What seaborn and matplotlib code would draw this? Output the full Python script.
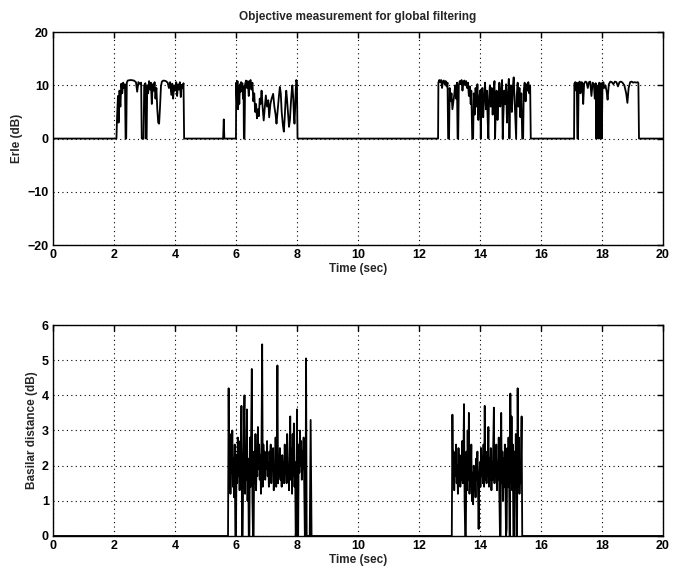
import matplotlib
matplotlib.use("Agg")
import matplotlib.pyplot as plt
import seaborn as sns
import pandas as pd

# ---------------- data ----------------
# Erle (dB): active segments, zero elsewhere
SEG_A_T = [2.08, 2.10, 2.13, 2.15, 2.18, 2.21, 2.24, 2.27, 2.30, 2.33, 2.36, 2.38, 2.40, 2.42, 2.45,
           2.55, 2.65, 2.72, 2.76, 2.80, 2.86, 2.89, 2.91, 2.97, 2.99, 3.03, 3.05, 3.07, 3.09, 3.12,
           3.15, 3.18, 3.21, 3.24, 3.27, 3.30, 3.33, 3.36, 3.39, 3.42, 3.45, 3.48, 3.51, 3.54, 3.57,
           3.62, 3.70, 3.76, 3.80, 3.84, 3.88, 3.91, 3.94, 3.97, 4.00, 4.04, 4.07, 4.10, 4.13, 4.16,
           4.19, 4.22, 4.25, 4.28, 4.30]
SEG_A_V = [0, 4, 8, 3, 9, 6, 10.3, 8.5, 10.5, 9.5, 10.2, 0, 0, 10.5, 10.9,
           11.0, 10.9, 10.6, 8.8, 10.6, 10.2, 10.5, 0, 0, 10.0, 10.4, 0, 0, 10.0, 8.5,
           10.8, 9.2, 10.5, 6.5, 10.2, 9.0, 10.6, 7.5, 9.5, 5.5, 3.0, 2.8, 6.0, 9.8, 10.7,
           10.9, 10.8, 10.5, 9.5, 10.6, 8.2, 10.3, 7.5, 10.0, 9.0, 10.6, 8.0, 10.2, 9.2, 10.6,
           7.8, 10.1, 9.5, 10.4, 0]

SPIKE_T = [5.58, 5.60, 5.62]
SPIKE_V = [0, 3.6, 0]

SEG_B_T = [6.00, 6.01, 6.03, 6.05, 6.07, 6.09, 6.11, 6.13, 6.15, 6.17, 6.19, 6.21, 6.23, 6.25, 6.26,
           6.28, 6.30, 6.33, 6.36, 6.39, 6.42, 6.45, 6.48, 6.51, 6.54, 6.57, 6.60, 6.63, 6.66, 6.69,
           6.72, 6.75, 6.78, 6.81, 6.84, 6.88, 6.91, 6.95, 6.98, 7.02, 7.06, 7.09, 7.13, 7.17, 7.22,
           7.26, 7.30, 7.33, 7.37, 7.41, 7.44, 7.47, 7.50, 7.54, 7.57, 7.60, 7.63, 7.65, 7.68, 7.71,
           7.74, 7.77, 7.80, 7.83, 7.85, 7.88, 7.90, 7.92, 7.94, 7.96, 7.98, 8.00, 8.02]
SEG_B_V = [0, 10.5, 7, 10.8, 5.5, 9.8, 6.5, 10.2, 8.8, 10.6, 9.0, 10.4, 7.5, 9.8, 0,
           0, 10.2, 10.9, 9.5, 10.8, 8.0, 10.6, 11.0, 9.2, 10.5, 7.0, 8.5, 5.0, 6.5, 3.8,
           5.5, 4.2, 7.5, 6.5, 9.0, 5.5, 3.4, 6.0, 8.1, 6.0, 7.2, 4.0, 6.5, 7.5, 8.4,
           6.0, 4.5, 2.8, 5.5, 8.0, 9.7, 8.5, 5.0, 2.5, 1.3, 4.0, 7.5, 9.0, 7.0, 4.5,
           2.2, 3.5, 6.5, 9.0, 10.0, 7.5, 4.5, 2.8, 5.5, 9.0, 11.0, 10.5, 0]

SEG_C_T = [12.63, 12.64, 12.67, 12.70, 12.73, 12.76, 12.79, 12.82, 12.85, 12.88, 12.91, 12.94, 12.96,
           12.99, 13.01, 13.04, 13.07, 13.10, 13.13, 13.16, 13.19, 13.22, 13.25, 13.27, 13.29, 13.31,
           13.34, 13.37, 13.40, 13.43, 13.46, 13.49, 13.52, 13.55, 13.58, 13.61, 13.64, 13.67, 13.70,
           13.72, 13.75, 13.78, 13.80, 13.83, 13.86, 13.89, 13.92, 13.95, 13.98, 14.01, 14.03, 14.05,
           14.08, 14.11, 14.14, 14.17, 14.20, 14.23, 14.26, 14.28, 14.30, 14.33, 14.36, 14.39, 14.42,
           14.45, 14.48, 14.50, 14.52, 14.55, 14.58, 14.61, 14.64, 14.67, 14.70, 14.73, 14.75, 14.77,
           14.80, 14.83, 14.86, 14.89, 14.92, 14.95, 14.97, 14.99, 15.02, 15.05, 15.08, 15.11, 15.14,
           15.17, 15.19, 15.21, 15.24, 15.27, 15.30, 15.33, 15.36, 15.39, 15.42, 15.44, 15.47, 15.50,
           15.53, 15.56, 15.59, 15.62, 15.65, 15.67]
SEG_C_V = [0, 10.5, 11.0, 10.6, 11.0, 9.5, 10.8, 10.9, 10.2, 10.8, 9.8, 10.5, 0,
           0, 9.5, 7.0, 8.5, 5.5, 6.8, 8.2, 10.0, 7.5, 10.5, 0, 0, 10.0,
           10.8, 10.2, 11.0, 9.0, 10.6, 10.9, 10.0, 10.8, 9.5, 10.5, 8.0, 9.8, 6.5,
           9.0, 0, 0, 8.5, 4.5, 9.5, 6.0, 10.2, 3.5, 7.5, 9.0, 0, 6.0,
           9.5, 4.0, 8.0, 10.5, 5.5, 9.0, 3.0, 0, 7.5, 10.0, 6.0, 9.5, 4.5,
           8.5, 10.8, 0, 5.0, 9.0, 3.5, 7.5, 10.5, 6.0, 9.0, 11.0, 0, 4.0,
           9.0, 6.5, 10.2, 3.0, 8.0, 11.2, 0, 7.0, 10.0, 5.0, 9.5, 11.5, 7.0,
           2.5, 0, 8.0, 10.5, 6.0, 9.5, 4.0, 8.5, 0, 0, 9.0, 10.5, 7.0,
           10.2, 9.0, 10.6, 8.5, 10.0, 0]

SEG_D_T = [17.09, 17.10, 17.13, 17.16, 17.18, 17.20, 17.22, 17.24, 17.27, 17.30, 17.33, 17.36, 17.39,
           17.42, 17.46, 17.50, 17.54, 17.58, 17.62, 17.66, 17.70, 17.74, 17.77, 17.80, 17.82, 17.84,
           17.86, 17.88, 17.90, 17.92, 17.94, 17.96, 17.98, 18.00, 18.02, 18.05, 18.08, 18.12, 18.16,
           18.19, 18.23, 18.28, 18.33, 18.38, 18.43, 18.48, 18.53, 18.58, 18.63, 18.68, 18.74, 18.80,
           18.84, 18.88, 18.93, 18.98, 19.03, 19.08, 19.13, 19.18, 19.20, 19.22]
SEG_D_V = [0, 10.3, 10.6, 9.0, 10.5, 0, 0, 10.2, 10.7, 8.5, 10.6, 10.5, 6.5,
           10.3, 10.7, 10.6, 9.5, 10.6, 10.7, 8.0, 10.5, 10.2, 7.5, 10.4, 0, 10.0,
           4.0, 0, 9.5, 10.5, 0, 8.0, 10.4, 0, 9.0, 10.6, 9.5, 10.0, 8.8,
           7.3, 10.2, 10.7, 10.6, 10.2, 10.7, 10.6, 9.8, 10.6, 10.7, 10.5, 10.0, 8.5,
           6.7, 9.5, 10.6, 10.7, 10.5, 10.6, 10.5, 10.6, 10.4, 0]

# Basilar distance (dB): active segments, zero elsewhere
SEG_E_T = [5.74, 5.76, 5.78, 5.80, 5.82, 5.84, 5.86, 5.88, 5.90, 5.92, 5.94, 5.96, 5.98, 6.00, 6.02,
           6.04, 6.06, 6.08, 6.10, 6.12, 6.14, 6.16, 6.18, 6.20, 6.22, 6.24, 6.26, 6.28, 6.30, 6.32,
           6.34, 6.36, 6.38, 6.40, 6.42, 6.44, 6.46, 6.48, 6.50, 6.52, 6.54, 6.56, 6.58, 6.60, 6.62,
           6.64, 6.66, 6.68, 6.70, 6.72, 6.74, 6.76, 6.78, 6.80, 6.82, 6.84, 6.86, 6.88, 6.90, 6.92,
           6.94, 6.96, 6.98, 7.00, 7.02, 7.04, 7.06, 7.08, 7.10, 7.12, 7.14, 7.16, 7.18, 7.20, 7.22,
           7.24, 7.26, 7.28, 7.30, 7.32, 7.34, 7.36, 7.38, 7.40, 7.42, 7.44, 7.46, 7.48, 7.50, 7.52,
           7.54, 7.56, 7.58, 7.60, 7.62, 7.64, 7.66, 7.68, 7.70, 7.72, 7.74, 7.76, 7.78, 7.80, 7.82,
           7.84, 7.86, 7.88, 7.90, 7.92, 7.94, 7.96, 7.98, 8.00, 8.02, 8.04, 8.06, 8.08, 8.10, 8.12,
           8.14, 8.16, 8.18, 8.20, 8.22, 8.24, 8.26, 8.28, 8.30, 8.32, 8.42, 8.45, 8.48]
SEG_E_V = [0, 4.2, 1.5, 2.9, 1.2, 2.5, 1.8, 3.0, 1.4, 2.2, 1.1, 2.6, 0, 0, 2.3,
           1.5, 2.8, 1.7, 2.4, 1.3, 2.7, 1.9, 3.7, 0, 0, 2.0, 3.0, 4.0, 1.2, 2.5,
           1.6, 3.6, 1.0, 2.2, 0, 0, 2.8, 1.4, 3.0, 4.75, 1.0, 0, 0, 2.4, 1.5,
           2.9, 1.3, 2.2, 1.7, 3.1, 1.9, 2.6, 1.6, 2.3, 1.2, 2.9, 5.45, 1.4, 2.6, 1.8,
           2.4, 1.6, 2.2, 1.9, 2.7, 1.7, 2.1, 1.4, 2.4, 2.0, 2.6, 1.5, 2.2, 1.9, 2.5,
           1.3, 2.0, 1.6, 2.8, 1.4, 2.3, 4.85, 1.5, 2.2, 1.7, 2.5, 1.6, 2.0, 1.4, 2.3,
           1.8, 2.1, 1.5, 2.6, 1.8, 2.2, 1.5, 2.9, 1.7, 2.0, 1.3, 2.4, 3.4, 1.6, 2.5,
           1.2, 2.9, 1.7, 3.2, 1.4, 2.1, 0, 0.3, 3.6, 1.0, 0, 2.6, 1.8, 3.0, 2.0,
           2.7, 1.6, 2.4, 1.9, 2.8, 1.5, 0, 0, 5.05, 0, 0, 3.3, 0]

SEG_F_T = [13.08, 13.10, 13.12, 13.14, 13.16, 13.18, 13.20, 13.22, 13.24, 13.26, 13.28, 13.30, 13.32,
           13.34, 13.36, 13.38, 13.40, 13.42, 13.44, 13.46, 13.48, 13.50, 13.52, 13.54, 13.56, 13.58,
           13.60, 13.62, 13.64, 13.66, 13.68, 13.70, 13.72, 13.74, 13.76, 13.78, 13.80, 13.82, 13.84,
           13.86, 13.88, 13.90, 13.92, 13.94, 13.96, 13.98, 14.00, 14.02, 14.04, 14.06, 14.08, 14.10,
           14.12, 14.14, 14.16, 14.18, 14.20, 14.22, 14.24, 14.26, 14.28, 14.30, 14.32, 14.34, 14.36,
           14.38, 14.40, 14.42, 14.44, 14.46, 14.48, 14.50, 14.52, 14.54, 14.56, 14.58, 14.60, 14.62,
           14.64, 14.66, 14.68, 14.70, 14.72, 14.74, 14.76, 14.78, 14.80, 14.82, 14.84, 14.86, 14.88,
           14.90, 14.92, 14.94, 14.96, 14.98, 15.00, 15.02, 15.04, 15.06, 15.08, 15.10, 15.12, 15.14,
           15.16, 15.18, 15.20, 15.22, 15.24, 15.26, 15.28, 15.30, 15.32, 15.34, 15.37, 15.39]
SEG_F_V = [0, 3.45, 1.6, 2.4, 1.3, 2.2, 1.7, 2.6, 1.5, 2.0, 1.2, 2.5, 1.8,
           2.3, 1.4, 2.1, 1.6, 2.7, 1.5, 2.2, 3.75, 1.0, 0, 0, 2.4, 1.3,
           3.0, 1.6, 3.5, 1.2, 2.1, 1.5, 2.6, 1.0, 1.8, 0.9, 2.0, 1.3, 1.9,
           1.1, 2.2, 1.6, 2.4, 1.2, 0.2, 1.5, 2.1, 1.4, 2.5, 1.7, 2.2, 1.5,
           2.6, 1.4, 3.7, 1.6, 2.3, 1.5, 2.4, 1.7, 3.1, 1.4, 2.2, 1.6, 2.5,
           1.3, 2.1, 1.6, 2.7, 3.65, 1.5, 2.3, 1.7, 2.6, 1.3, 2.1, 1.6, 2.8,
           1.2, 0, 0, 3.5, 1.5, 2.4, 1.0, 2.2, 1.4, 2.6, 1.2, 0, 0.2,
           2.5, 1.4, 2.8, 1.6, 0, 4.05, 1.5, 3.4, 1.3, 2.6, 0, 0, 2.4,
           1.5, 2.9, 0, 0, 4.2, 1.4, 2.8, 1.2, 2.0, 1.5, 3.4, 0]

X_TICKS = [0, 2, 4, 6, 8, 10, 12, 14, 16, 18, 20]
TOP_Y_TICKS = [-20, -10, 0, 10, 20]
BOT_Y_TICKS = [0, 1, 2, 3, 4, 5, 6]

TITLE = "Objective measurement for global filtering"
X_LABEL = "Time (sec)"
TOP_Y_LABEL = "Erle (dB)"
BOT_Y_LABEL = "Basilar distance (dB)"

# ---------------- assemble ----------------
erle = pd.DataFrame({
    "t": [0.0] + SEG_A_T + SPIKE_T + SEG_B_T + SEG_C_T + SEG_D_T + [20.0],
    "v": [0.0] + SEG_A_V + SPIKE_V + SEG_B_V + SEG_C_V + SEG_D_V + [0.0],
})
basilar = pd.DataFrame({
    "t": [0.0] + SEG_E_T + SEG_F_T + [20.0],
    "v": [0.0] + SEG_E_V + SEG_F_V + [0.0],
})

sns.set_style("white")
plt.rcParams["font.family"] = ["Liberation Sans", "DejaVu Sans"]
plt.rcParams["font.weight"] = "bold"

fig = plt.figure(figsize=(6.73, 5.78), dpi=100)
ax1 = fig.add_axes([0.0788, 0.576, 0.906, 0.3685])
ax2 = fig.add_axes([0.0788, 0.0727, 0.906, 0.365])

sns.lineplot(data=erle, x="t", y="v", ax=ax1, color="black", linewidth=1.3, sort=False)
sns.lineplot(data=basilar, x="t", y="v", ax=ax2, color="black", linewidth=1.3, sort=False)

for ax, yt, yl in ((ax1, TOP_Y_TICKS, TOP_Y_LABEL), (ax2, BOT_Y_TICKS, BOT_Y_LABEL)):
    ax.set_xlim(X_TICKS[0], X_TICKS[-1])
    ax.set_ylim(yt[0], yt[-1])
    ax.set_xticks(X_TICKS)
    ax.set_yticks(yt)
    ax.grid(True, linestyle=(0, (1, 3)), color="black", linewidth=0.8)
    ax.tick_params(direction="in", length=4, width=1, top=True, right=True,
                   labelsize=9, pad=3, colors="black")
    for s in ax.spines.values():
        s.set_color("black")
        s.set_linewidth(1.0)
    ax.set_xlabel(X_LABEL, fontsize=8.5, fontweight="bold", labelpad=1)
    ax.set_ylabel(yl, fontsize=8.5, fontweight="bold", labelpad=3)
    for lab in ax.get_xticklabels() + ax.get_yticklabels():
        lab.set_fontweight("bold")

ax1.set_title(TITLE, fontsize=8.5, fontweight="bold", pad=9)

fig.savefig("out.png", dpi=100)
